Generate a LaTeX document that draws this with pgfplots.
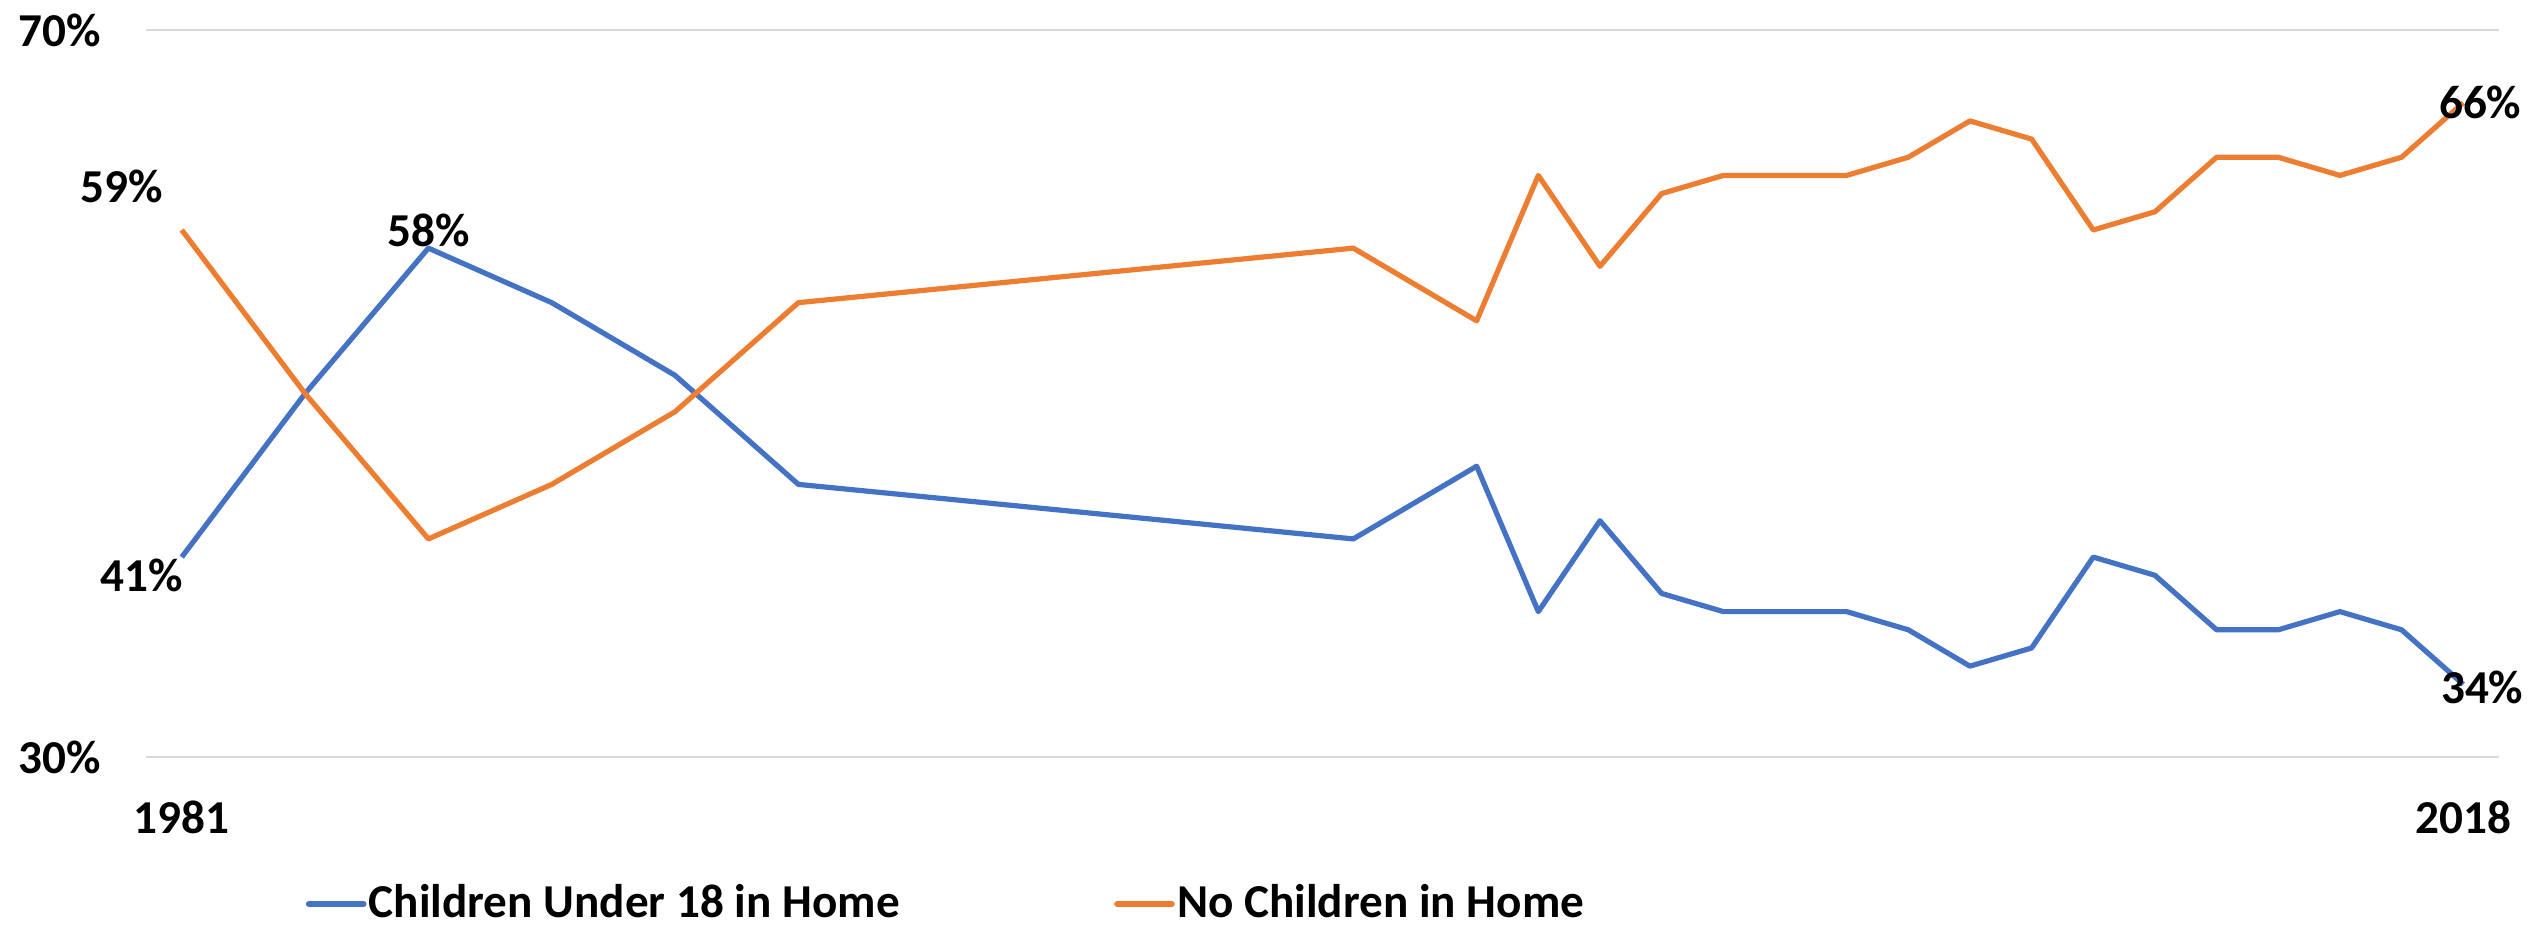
\documentclass[border=0pt]{standalone}
\usepackage{fontspec}
\setmainfont{Carlito}
\usepackage{pgfplots}
\pgfplotsset{compat=1.18}
\definecolor{cblue}{HTML}{4472C4}
\definecolor{corange}{HTML}{ED7D31}
\definecolor{gridgray}{HTML}{D9D9D9}

% Share of households with / without children under 18
\pgfplotstableread{
year kids nokids
1981 41 59
1983 50 50
1985 58 42
1987 55 45
1989 51 49
1991 45 55
2000 42 58
2002 46 54
2003 38 62
2004 43 57
2005 39 61
2006 38 62
2007 38 62
2008 38 62
2009 37 63
2010 35 65
2011 36 64
2012 41 59
2013 40 60
2014 37 63
2015 37 63
2016 38 62
2017 37 63
2018 34 66
}\households

\begin{document}
\begin{tikzpicture}[font=\fontsize{11.8}{14}\selectfont\bfseries]
\useasboundingbox (-36.5pt,-42.25pt) rectangle (598.25pt,189.25pt);
\begin{axis}[
  scale only axis, width=588.25pt, height=181.75pt,
  xmin=1980.42, xmax=2018.58, ymin=30, ymax=70,
  axis line style={draw=none}, tick style={draw=none},
  xtick={1981,2018}, xticklabels={1981,2018},
  ytick={30,70}, yticklabels={30\%,70\%},
  ymajorgrids, grid style={gridgray, line width=0.5pt},
  yticklabel style={xshift=-7.75pt},
  xticklabel style={yshift=-7.5pt},
  clip=false,
  legend columns=2,
  legend style={draw=none, fill=none, at={(0.0625,-0.2022)}, anchor=west,
    /tikz/every even column/.append style={column sep=53pt},
    nodes={inner sep=0.6pt}},
  legend image code/.code={\draw[#1, line width=1.4pt, line cap=round] (0pt,0pt) -- (13.75pt,0pt);},
  every axis plot/.append style={line width=1.3pt, line join=round},
]
\addplot[cblue] table[x=year, y=kids] {\households};
\addlegendentry{Children Under 18 in Home}
\addplot[corange] table[x=year, y=nokids] {\households};
\addlegendentry{No Children in Home}

\node[xshift=-15pt, yshift=11pt] at (axis cs:1981,59) {59\%};
\node[xshift=-10pt, yshift=-4.5pt] at (axis cs:1981,41) {41\%};
\node[yshift=4.5pt] at (axis cs:1985,58) {58\%};
\node[xshift=4.25pt] at (axis cs:2018,66) {66\%};
\node[xshift=4.75pt, yshift=-0.75pt] at (axis cs:2018,34) {34\%};
\end{axis}
\end{tikzpicture}
\end{document}
